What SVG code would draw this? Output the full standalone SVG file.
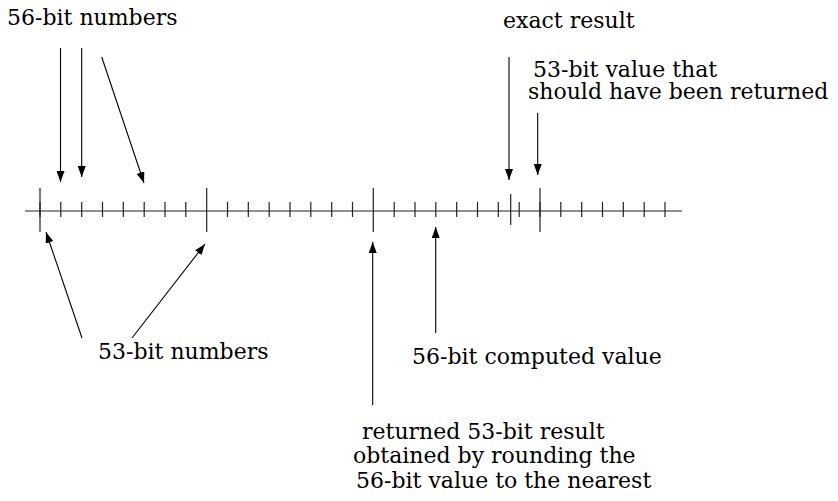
<svg xmlns="http://www.w3.org/2000/svg" width="838" height="501" viewBox="0 0 838 501">
<defs>
<marker id="ah" markerUnits="userSpaceOnUse" markerWidth="11" markerHeight="8" refX="11" refY="4" orient="auto">
<path d="M0,0 L11,4 L0,8 z" fill="#000"/>
</marker>
<style>
.t{font-family:"DejaVu Serif","Liberation Serif",serif;font-size:22px;fill:#000}
.ax{stroke:#222;stroke-width:1.2;fill:none}
.mn{stroke:#222;stroke-width:1.2}
.mj{stroke:#222;stroke-width:1.2}
.ar{stroke:#000;stroke-width:1.1;fill:none;marker-end:url(#ah)}
</style>
</defs>
<rect width="838" height="501" fill="#fff"/>
<g id="axis">
<line class="ax" x1="25" y1="211" x2="682" y2="211"/>
<g id="minor-ticks">
<line class="mn" x1="40" y1="202" x2="40" y2="217" stroke-width="2.2"/>
<line class="mn" x1="60.8" y1="202" x2="60.8" y2="217"/>
<line class="mn" x1="81.7" y1="202" x2="81.7" y2="217"/>
<line class="mn" x1="102.5" y1="202" x2="102.5" y2="217"/>
<line class="mn" x1="123.3" y1="202" x2="123.3" y2="217"/>
<line class="mn" x1="144.2" y1="202" x2="144.2" y2="217"/>
<line class="mn" x1="165" y1="202" x2="165" y2="217"/>
<line class="mn" x1="185.8" y1="202" x2="185.8" y2="217"/>
<line class="mn" x1="227.5" y1="202" x2="227.5" y2="217"/>
<line class="mn" x1="248.3" y1="202" x2="248.3" y2="217"/>
<line class="mn" x1="269.2" y1="202" x2="269.2" y2="217"/>
<line class="mn" x1="290" y1="202" x2="290" y2="217"/>
<line class="mn" x1="310.8" y1="202" x2="310.8" y2="217"/>
<line class="mn" x1="331.7" y1="202" x2="331.7" y2="217"/>
<line class="mn" x1="352.5" y1="202" x2="352.5" y2="217"/>
<line class="mn" x1="394.2" y1="202" x2="394.2" y2="217"/>
<line class="mn" x1="415" y1="202" x2="415" y2="217"/>
<line class="mn" x1="435.8" y1="202" x2="435.8" y2="217"/>
<line class="mn" x1="456.7" y1="202" x2="456.7" y2="217"/>
<line class="mn" x1="477.5" y1="202" x2="477.5" y2="217"/>
<line class="mn" x1="498.3" y1="202" x2="498.3" y2="217"/>
<line class="mn" x1="519.2" y1="202" x2="519.2" y2="217"/>
<line class="mn" x1="540" y1="202" x2="540" y2="217" stroke-width="2.2"/>
<line class="mn" x1="560.8" y1="202" x2="560.8" y2="217"/>
<line class="mn" x1="581.7" y1="202" x2="581.7" y2="217"/>
<line class="mn" x1="602.5" y1="202" x2="602.5" y2="217"/>
<line class="mn" x1="623.3" y1="202" x2="623.3" y2="217"/>
<line class="mn" x1="644.2" y1="202" x2="644.2" y2="217"/>
<line class="mn" x1="665" y1="202" x2="665" y2="217"/>
</g>
<g id="major-ticks">
<line class="mj" x1="40" y1="188" x2="40" y2="232"/>
<line class="mj" x1="206.7" y1="188" x2="206.7" y2="232"/>
<line class="mj" x1="373.3" y1="188" x2="373.3" y2="232"/>
<line class="mj" x1="540" y1="188" x2="540" y2="232"/>
</g>
<line id="exact-tick" class="mj" x1="510.7" y1="194" x2="510.7" y2="225"/>
</g>
<g id="connectors">
<line class="ar" x1="60.5" y1="48" x2="60.5" y2="182"/>
<line class="ar" x1="81.7" y1="48" x2="81.7" y2="177"/>
<line class="ar" x1="101.7" y1="57" x2="144" y2="183"/>
<line class="ar" x1="509" y1="57" x2="509" y2="180"/>
<line class="ar" x1="537.7" y1="113" x2="537.7" y2="175"/>
<line class="ar" x1="82" y1="338" x2="46" y2="232"/>
<line class="ar" x1="132" y1="338" x2="205" y2="244"/>
<line class="ar" x1="372.7" y1="405" x2="372.7" y2="242"/>
<line class="ar" x1="435.7" y1="333" x2="435.7" y2="227"/>
</g>
<g id="label-56bit-numbers"><text class="t" x="7" y="25">56-bit numbers</text></g>
<g id="label-exact-result"><text class="t" x="503" y="28">exact result</text></g>
<g id="label-53bit-value"><text class="t"><tspan x="533" y="77">53-bit value that</tspan><tspan x="528" y="99">should have been returned</tspan></text></g>
<g id="label-53bit-numbers"><text class="t" x="98" y="359">53-bit numbers</text></g>
<g id="label-computed"><text class="t" x="412" y="364">56-bit computed value</text></g>
<g id="label-returned"><text class="t"><tspan x="362" y="439">returned 53-bit result</tspan><tspan x="353" y="463">obtained by rounding the</tspan><tspan x="356" y="488">56-bit value to the nearest</tspan></text></g>
</svg>
